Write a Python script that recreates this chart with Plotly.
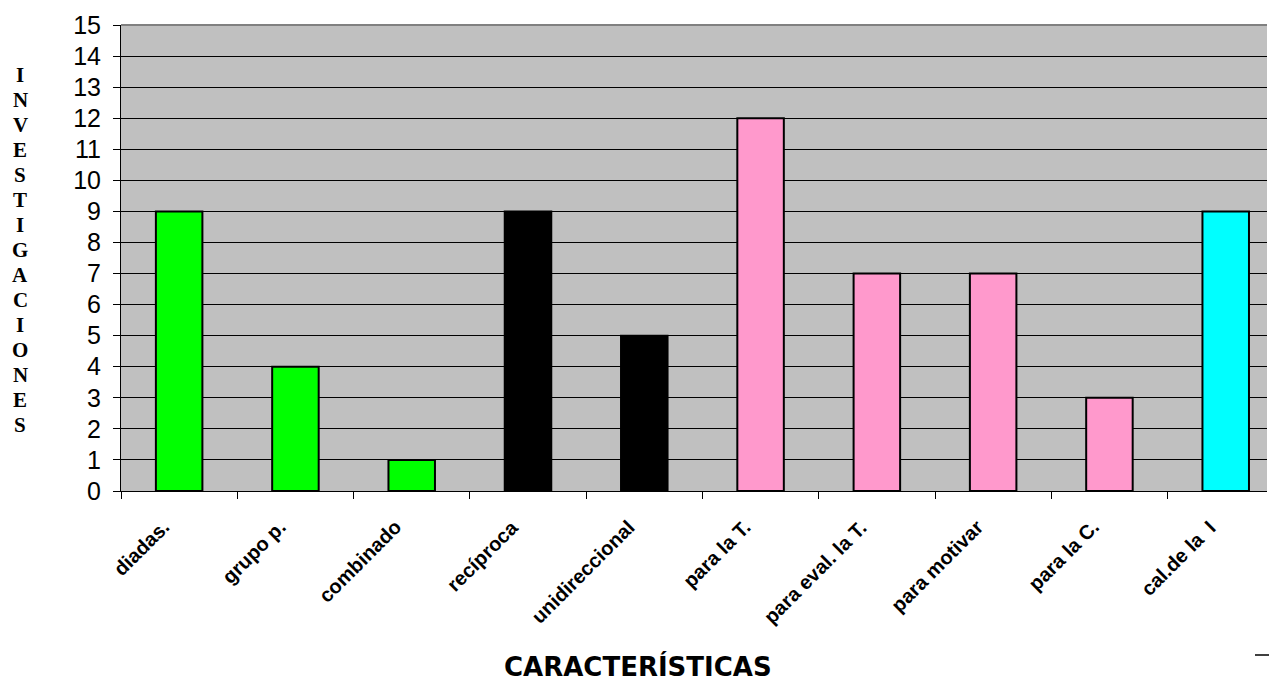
import plotly.graph_objects as go

# Categories and counts of investigations per characteristic
categorias = ["diadas.", "grupo p.", "combinado", "recíproca", "unidireccional",
              "para la T.", "para eval. la T.", "para motivar", "para la C.", "cal.de la  I"]
investigaciones = [9, 4, 1, 9, 5, 12, 7, 7, 3, 9]
colores = ["#00FF00", "#00FF00", "#00FF00", "#000000", "#000000",
           "#FF99CC", "#FF99CC", "#FF99CC", "#FF99CC", "#00FFFF"]
y_ticks = list(range(0, 16))
titulo_y = "INVESTIGACIONES"
titulo_x = "CARACTERÍSTICAS"

W, H = 1269, 683
L, R, T, B = 121, 2, 25, 192
PW, PH = W - L - R, H - T - B


def px_x(x):
    return (x - L) / PW


def px_y(y):
    return (H - B - y) / PH


fig = go.Figure(go.Bar(
    x=categorias,
    y=investigaciones,
    marker=dict(color=colores, line=dict(color="#000000", width=2)),
    width=0.40,
))

fig.update_layout(
    width=W, height=H,
    margin=dict(l=L, r=R, t=T, b=B),
    paper_bgcolor="white",
    plot_bgcolor="#C0C0C0",
    showlegend=False,
    xaxis=dict(
        type="category",
        range=[-0.5, 9.355],
        showticklabels=False,
        ticks="outside", tickson="boundaries", ticklen=7, tickcolor="black",
        showline=True, linecolor="black", linewidth=1,
        showgrid=False,
    ),
    yaxis=dict(
        range=[0, 15],
        tickvals=y_ticks,
        tickfont=dict(family="Liberation Sans, Arial", size=25, color="black"),
        ticks="outside", ticklen=7, tickcolor="black",
        ticklabelstandoff=7,
        showline=True, linecolor="black", linewidth=1,
        showgrid=True, gridcolor="#000000", gridwidth=1,
        zeroline=False,
    ),
)

# Category labels, slanted and hanging just left of each bar centre
for cat in categorias:
    fig.add_annotation(
        text=cat, x=cat, xref="x", y=0, yref="paper",
        xanchor="right", yanchor="top", textangle=-45,
        xshift=-3, yshift=-22, showarrow=False,
        font=dict(family="Liberation Sans, Arial", size=20, color="black", weight="bold"),
    )

# Top border of the plot area
fig.add_shape(type="line", xref="paper", yref="paper", x0=0, x1=1, y0=1, y1=1,
              line=dict(color="#808080", width=2))

# Vertical axis title, one letter per row
for i, letra in enumerate(titulo_y):
    fig.add_annotation(
        text=letra, xref="paper", yref="paper",
        x=px_x(20), y=px_y(75 + 25 * i),
        xanchor="center", yanchor="middle", showarrow=False,
        font=dict(family="Liberation Serif, Times New Roman", size=21, color="black", weight="bold"),
    )

# Horizontal axis title
fig.add_annotation(
    text=titulo_x,
    xref="paper", yref="paper",
    x=px_x(638), y=px_y(666),
    xanchor="center", yanchor="middle",
    showarrow=False,
    font=dict(family="DejaVu Sans", size=26, color="black", weight="bold"),
)

# Small mark at the lower right
fig.add_shape(type="line", xref="paper", yref="paper",
              x0=px_x(1255), x1=px_x(1269), y0=px_y(655), y1=px_y(655),
              line=dict(color="black", width=1.5))

fig.write_html("out.html")
